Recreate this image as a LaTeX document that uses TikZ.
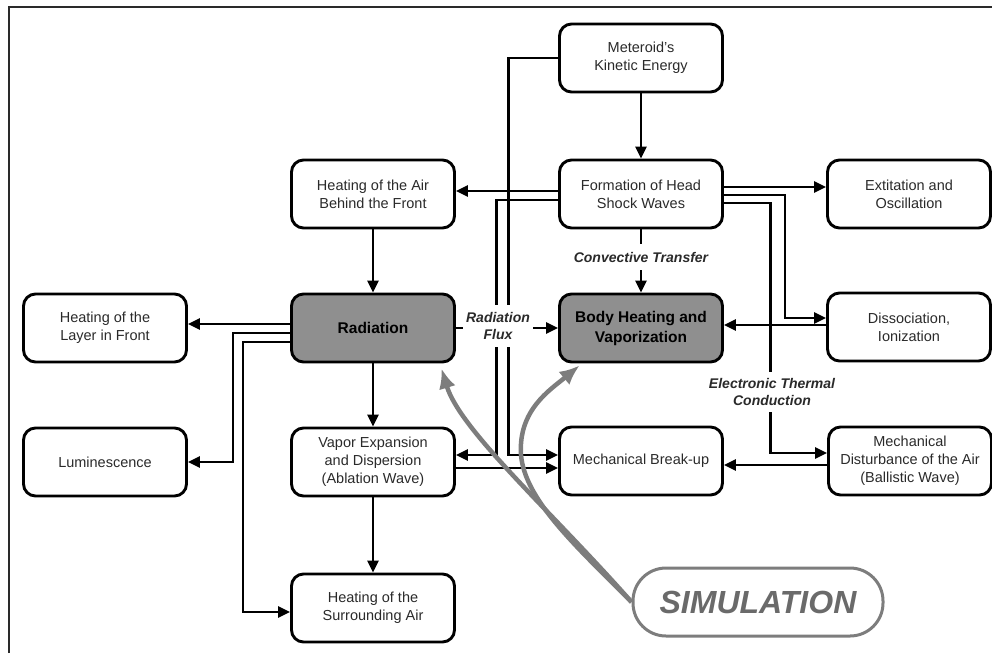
\documentclass[tikz,border=0pt]{standalone}
\usepackage{fontspec}
\setmainfont{Liberation Sans}
\usetikzlibrary{arrows.meta,calc}
\definecolor{boxgray}{HTML}{8F8F8F}
\definecolor{simgray}{HTML}{7D7D7D}
\definecolor{txt}{HTML}{2A2A2A}
\begin{document}
\begin{tikzpicture}[x=1pt,y=-1pt,
 box/.style={draw=black, line width=2.9pt, rounded corners=12pt, minimum width=163pt, minimum height=68pt, align=center, inner sep=0pt, font=\fontsize{14.5}{18}\selectfont, text=txt},
 hot/.style={box, fill=boxgray, font=\fontsize{15.5}{20}\selectfont\bfseries, text=black},
 conn/.style={line width=2.6pt, -{Triangle[length=12pt,width=11pt]}},
 lbl/.style={fill=white, align=center, inner xsep=3pt, font=\fontsize{14}{17}\selectfont\bfseries\itshape, text=txt},
 simarrow/.style={draw=simgray, line width=4.5pt, -{Latex[length=20pt,width=17pt]}},
]
\useasboundingbox (0,0) rectangle (992,653);
\draw[line width=2pt, color=txt] (9,653) -- (9,7) -- (992,7);

% nodes
\node[box] (met) at (641,58) {Meteroid's\\Kinetic Energy};
\node[box] (form) at (641,194) {Formation of Head\\Shock Waves};
\node[box] (hab) at (373,194) {Heating of the Air\\Behind the Front};
\node[box] (ext) at (909,194) {Extitation and\\Oscillation};
\node[box] (hlf) at (105,328) {Heating of the\\Layer in Front};
\node[hot] (rad) at (373,328) {Radiation};
\node[hot] (body) at (641,328) {Body Heating and\\Vaporization};
\node[box] (diss) at (909,327) {Dissociation,\\Ionization};
\node[box] (lum) at (105,462) {Luminescence};
\node[box] (vap) at (373,462) {Vapor Expansion\\and Dispersion\\(Ablation Wave)};
\node[box] (mbu) at (641,461) {Mechanical Break-up};
\node[box] (mda) at (910,461) {Mechanical\\Disturbance of the Air\\(Ballistic Wave)};
\node[box] (hsa) at (373,608) {Heating of the\\Surrounding Air};
\node[draw=simgray, line width=3pt, rounded corners=33pt, minimum width=250pt, minimum height=68pt,
      font=\fontsize{32}{36}\selectfont\bfseries\itshape, text=simgray!85!black] (sim) at (758,602) {SIMULATION};

% connectors
\draw[conn] (met) -- (form);
\draw[conn] ($(form.west)+(0,-3)$) -- ($(hab.east)+(0,-3)$);
\draw[conn] ($(form.east)+(0,-7)$) -- ($(ext.west)+(0,-7)$);
\draw[conn] ($(form.east)+(0,1)$) -- ++(61,0) |- ($(diss.west)+(0,-9)$);
\draw[conn] ($(form.east)+(0,9)$) -| ($(mda.west)+(-56.5,-8)$) -- ($(mda.west)+(0,-8)$);
\draw[conn] ($(diss.west)+(0,-2)$) -- ($(body.east)+(0,-3)$);
\draw[conn] (form) -- (body);
\draw[conn] (rad) -- (body);
\draw[conn] (hab) -- (rad);
\draw[conn] (rad) -- (vap);
\draw[conn] (vap) -- (hsa);
\draw[conn] ($(rad.west)+(0,-4)$) -- ($(hlf.east)+(0,-4)$);
\draw[conn] ($(rad.west)+(0,5)$) -- ++(-57,0) |- (lum.east);
\draw[conn] ($(rad.west)+(0,14)$) -- ++(-47,0) |- ($(hsa.west)+(0,4)$);
\draw[conn] ($(form.west)+(0,6)$) -- ++(-61.5,0) |- ($(vap.east)+(0,-7)$);
\draw[conn] (met.west) -- ++(-49.5,0) |- ($(mbu.west)+(0,-6)$);
\draw[conn] ($(vap.east)+(0,6)$) -- ($(mbu.west)+(0,7)$);
\draw[conn] ($(mda.west)+(0,4)$) -- ($(mbu.east)+(0,4)$);

% labels on connectors
\node[lbl, inner ysep=8pt] (conv) at (641,257) {Convective Transfer};
\node[lbl, inner ysep=7pt] (rflux) at (498,326) {Radiation\\Flux};
\node[lbl, inner ysep=6pt] (etc) at (772,392) {Electronic Thermal\\Conduction};

% simulation arrows
\draw[simarrow] (sim.west) .. controls (550,510) and (460,430) .. ($(rad.south east)+(-14.5,5)$);
\draw[simarrow] (sim.west) .. controls (575,545) and (525,500) .. (521,455)
   .. controls (518,410) and (550,390) .. ($(body.south west)+(21.5,2)$);
\end{tikzpicture}
\end{document}
